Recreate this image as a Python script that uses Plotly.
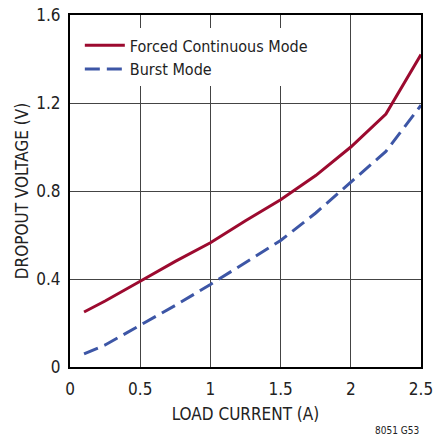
import plotly.graph_objects as go

# Data
load_current = [0.1, 0.25, 0.5, 0.75, 1.0, 1.25, 1.5, 1.75, 2.0, 2.25, 2.5]
forced_continuous = [0.25, 0.30, 0.39, 0.48, 0.565, 0.665, 0.76, 0.87, 1.0, 1.15, 1.42]
burst_mode = [0.06, 0.10, 0.19, 0.28, 0.375, 0.475, 0.575, 0.70, 0.84, 0.98, 1.19]

x_ticks = [0, 0.5, 1, 1.5, 2, 2.5]
x_tick_text = ["0", "0.5", "1", "1.5", "2", "2.5"]
y_ticks = [0, 0.4, 0.8, 1.2, 1.6]
y_tick_text = ["0", "0.4", "0.8", "1.2", "1.6"]

FONT = "DejaVu Sans Condensed, Liberation Sans Narrow, sans-serif"
TXT = "#222222"
RED = "#9c0a2f"
BLUE = "#3d56a6"

fig = go.Figure()
fig.add_trace(go.Scatter(
    x=load_current, y=forced_continuous, mode="lines",
    name="Forced Continuous Mode",
    line=dict(color=RED, width=3),
))
fig.add_trace(go.Scatter(
    x=load_current, y=burst_mode, mode="lines",
    name="Burst Mode",
    line=dict(color=BLUE, width=3, dash="15px,7px"),
))

fig.update_layout(
    width=433, height=437,
    margin=dict(l=70, r=12, t=15, b=70, autoexpand=False),
    paper_bgcolor="white", plot_bgcolor="white",
    font=dict(family=FONT, size=17, color=TXT),
    showlegend=True,
    legend=dict(
        x=0.028, y=0.962, xanchor="left", yanchor="top",
        bgcolor="white", borderwidth=0,
        font=dict(family=FONT, size=16, color=TXT),
        itemwidth=40, tracegroupgap=0,
    ),
    xaxis=dict(
        range=[0, 2.5], tickvals=x_ticks, ticktext=x_tick_text,
        showgrid=True, gridcolor="#444444", gridwidth=1,
        showline=True, linecolor="black", linewidth=2, mirror=True,
        ticks="", zeroline=False, automargin=False,
        title=dict(text="LOAD CURRENT (A)", font=dict(family=FONT, size=17, color=TXT), standoff=10),
        tickfont=dict(family=FONT, size=17, color=TXT),
        ticklabelstandoff=6, ticklabeloverflow="allow",
    ),
    yaxis=dict(
        range=[0, 1.6], tickvals=y_ticks, ticktext=y_tick_text,
        showgrid=True, gridcolor="#444444", gridwidth=1,
        showline=True, linecolor="black", linewidth=2, mirror=True,
        ticks="", zeroline=False, automargin=False,
        title=dict(text="DROPOUT VOLTAGE (V)", font=dict(family=FONT, size=17, color=TXT), standoff=3),
        tickfont=dict(family=FONT, size=17, color=TXT),
        ticklabelstandoff=4, ticklabeloverflow="allow",
    ),
    annotations=[dict(
        text="8051 G53", x=1.0, y=-0.179, xref="paper", yref="paper",
        xanchor="right", yanchor="middle", showarrow=False,
        font=dict(family=FONT, size=10, color=TXT),
    )],
)

fig.write_html(
    "out.html",
    config={"displayModeBar": False},
    post_script="document.body.style.margin='0';document.body.style.padding='0';",
)
